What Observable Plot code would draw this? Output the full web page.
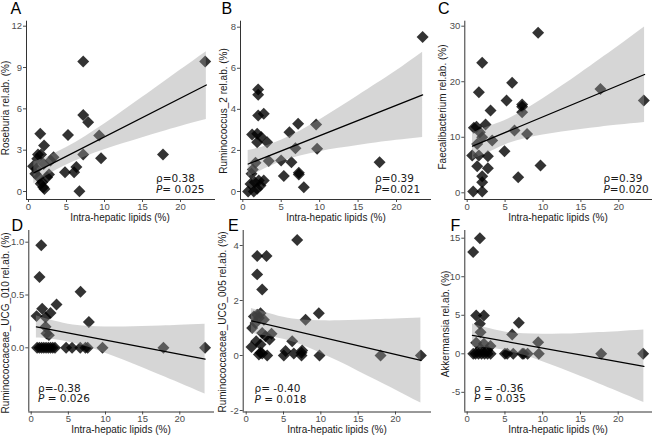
<!DOCTYPE html>
<html><head><meta charset="utf-8">
<script src="https://cdn.jsdelivr.net/npm/d3@7"></script>
<script src="https://cdn.jsdelivr.net/npm/@observablehq/plot@0.6"></script>
<style>
body{margin:0;background:#fff;}
#fig{position:relative;width:652px;height:435px;overflow:hidden;background:#fff;}
#fig svg{position:absolute;left:0;top:0;}
</style></head><body><div id="fig"></div>
<script>
// ---------- data ----------
const xTicks = [0, 5, 10, 15, 20];
const xTitle = "Intra-hepatic lipids (%)";
const panelLetters = ["A", "B", "C", "D", "E", "F"];
const yTitles = ["Roseburia rel.ab. (%)", "Ruminococcus_2 rel.ab. (%)", "Faecalibacterium rel.ab. (%)",
  "Ruminococcaceae_UCG_010 rel.ab. (%)", "Ruminococcaceae_UCG_005 rel.ab. (%)", "Akkermansia rel.ab. (%)"];
const rhoText = ["ρ=0.38", "ρ=0.39", "ρ=0.39", "ρ=-0.38", "ρ= -0.40", "ρ = -0.36"];
const pText = ["= 0.025", "=0.021", "=0.020", " = 0.026", " = 0.018", " = 0.035"];

const yTicksA = [0, 3, 6, 9, 12];
const yTicksB = [0, 2, 4, 6, 8];
const yTicksC = [0, 10, 20, 30];
const yTicksD = [0, 0.5, 1.0];
const yTicksE = [-2, 0, 2, 4];
const yTicksF = [-5, 0, 5, 10, 15];

// confidence band x positions and fitted line ends
const bandX = [0.7, 2.5, 5, 7.5, 10, 12.5, 15, 17.5, 20, 23.4];
const fitX = [0.7, 23.4];

// A Roseburia
const aX = [23.25, 7.2, 7.2, 7.85, 9.3, 5.2, 1.55, 2.05, 7.2, 9.55, 17.7, 3.3, 2.9, 1.25, 1.65, 0.6, 1.15, 4.8, 6.0, 6.3, 6.7, 0.9, 1.35, 1.8, 2.1, 1.95, 2.7, 2.45, 1.05, 2.0, 1.6];
const aY = [9.44, 9.44, 5.56, 5.03, 4.06, 4.11, 4.19, 3.34, 2.69, 2.42, 2.69, 2.49, 2.25, 2.69, 2.69, 1.84, 2.37, 1.4, 1.4, 1.77, 0.02, 1.28, 1.04, 0.68, 0.19, 0.31, 1.23, 1.04, 1.65, 2.0, 0.56];
const aLo = [0.56, 1.18, 1.92, 2.53, 3.03, 3.48, 3.91, 4.32, 4.72, 5.22];
const aHi = [2.14, 2.53, 3.19, 4.00, 4.90, 5.86, 6.84, 7.83, 8.82, 10.15];
const aFit = [1.35, 7.73];

// B Ruminococcus_2
const bX = [23.4, 2.0, 2.0, 2.0, 2.73, 1.21, 1.87, 1.87, 2.39, 3.17, 7.2, 6.07, 9.54, 6.85, 9.67, 3.38, 4.99, 6.33, 17.8, 5.34, 7.29, 7.29, 7.94, 1.65, 1.13, 1.0, 0.69, 1.43, 1.87, 2.3, 2.73, 2.08, 1.56, 1.3];
const bY = [7.52, 4.97, 4.71, 3.70, 3.78, 2.78, 2.81, 2.40, 2.65, 2.40, 3.30, 2.89, 3.26, 2.11, 2.08, 1.48, 1.51, 1.43, 1.43, 0.75, 0.91, 0.83, 0.21, 1.40, 0.86, 0.37, 0.0, 0.0, 0.13, 0.29, 0.54, 0.54, 0.45, 1.07];
const bLo = [0.70, 1.04, 1.45, 1.73, 1.94, 2.10, 2.24, 2.37, 2.49, 2.63];
const bHi = [2.00, 2.16, 2.50, 2.95, 3.48, 4.06, 4.66, 5.27, 5.88, 6.78];
const bFit = [1.34, 4.70];

// C Faecalibacterium
const cX = [9.36, 1.98, 1.54, 5.93, 17.58, 23.3, 5.19, 7.25, 7.25, 7.25, 3.08, 7.9, 6.24, 1.23, 2.42, 0.88, 1.67, 1.98, 3.3, 1.32, 0.66, 1.54, 2.73, 4.92, 1.32, 2.73, 9.67, 6.73, 1.98, 1.98, 0.79, 1.98];
const cY = [28.8, 23.4, 18.1, 19.8, 18.7, 16.6, 16.6, 15.5, 15.9, 14.5, 14.8, 10.6, 11.2, 11.9, 12.3, 11.7, 10.9, 10.0, 9.4, 8.8, 6.7, 6.7, 6.6, 7.5, 4.8, 4.4, 4.9, 2.8, 3.0, 1.9, 0.24, 0.24];
const cLo = [6.0, 7.06, 8.63, 9.70, 10.40, 10.95, 11.40, 11.81, 12.19, 12.65];
const cHi = [10.8, 11.78, 13.03, 14.80, 16.92, 19.21, 21.58, 24.01, 26.45, 29.85];
const cFit = [8.4, 21.3];

// D Ruminococcaceae_UCG_010
const dX = [0.8, 1.1, 1.4, 1.7, 2.0, 2.3, 2.6, 2.9, 3.2, 4.7, 5.5, 6.6, 7.3, 7.6, 9.6, 17.8, 23.4, 1.35, 1.12, 6.64, 3.41, 1.48, 0.72, 2.6, 1.93, 7.76, 2.06, 2.38, 1.93];
const dY = [0, 0, 0, 0, 0, 0, 0, 0, 0, 0, 0, 0, 0, 0, 0, 0, 0, 0.97, 0.67, 0.53, 0.41, 0.37, 0.30, 0.33, 0.29, 0.245, 0.135, 0.12, 0.2];
const dLo = [0.092, 0.084, 0.056, 0.009, -0.052, -0.119, -0.189, -0.262, -0.335, -0.437];
const dHi = [0.304, 0.265, 0.224, 0.205, 0.198, 0.198, 0.201, 0.206, 0.213, 0.223];
const dFit = [0.198, -0.107];

// E Ruminococcaceae_UCG_005
const eX = [6.83, 1.47, 2.72, 1.47, 2.14, 1.03, 1.47, 1.92, 1.7, 2.37, 0.8, 1.25, 7.95, 9.73, 3.39, 3.13, 6.16, 2.14, 2.59, 0.71, 1.34, 1.92, 1.92, 2.14, 2.81, 5.04, 5.27, 6.38, 7.41, 7.5, 7.41, 9.82, 18.0, 23.4, 1.7];
const eY = [4.2, 3.62, 3.62, 2.95, 2.40, 1.42, 1.48, 1.54, 1.36, 1.30, 1.0, 1.18, 1.30, 1.54, 0.79, 0.58, 0.52, 0.82, 0.70, 0.31, 0.52, 0.40, 0.10, 0.07, 0.0, 0.0, 0.16, 0.07, 0.10, 0.18, 0.0, 0.0, 0.0, 0.0, 0.04];
const eLo = [0.81, 0.72, 0.59, 0.37, 0.08, -0.23, -0.57, -0.91, -1.25, -1.73];
const eHi = [1.71, 1.575, 1.39, 1.29, 1.26, 1.26, 1.28, 1.31, 1.33, 1.36];
const eFit = [1.26, -0.18];

// F Akkermansia
const fX = [1.68, 0.79, 1.19, 2.21, 1.68, 6.84, 5.96, 1.77, 1.19, 2.21, 3.09, 9.4, 9.49, 17.75, 23.3, 0.8, 1.1, 1.5, 1.9, 2.3, 2.7, 3.1, 5.0, 5.3, 6.1, 7.3, 7.5, 8.0, 1.77, 2.65];
const fY = [15.0, 13.2, 4.97, 4.97, 3.89, 4.02, 2.51, 2.81, 1.43, 1.30, 1.0, 1.51, 0, 0, 0, 0, 0, 0, 0, 0, 0, 0, 0, 0, 0, 0, 0, 0, 0.65, 0.43];
const fLo = [0.88, 0.79, 0.43, -0.20, -1.03, -1.95, -2.92, -3.91, -4.92, -6.32];
const fHi = [3.88, 3.37, 2.84, 2.59, 2.53, 2.56, 2.65, 2.75, 2.87, 3.08];
const fFit = [2.38, -1.62];

// ---------- layout (pixel frame of each panel) ----------
const W = 652, H = 435;
const layout = [
  {axisX: 26,    x0: 28,    x20: 180,   right: 215, top: 20.7, bottom: 199,   v0: 0, p0: 191,   v1: 12, p1: 25.7,  pad: 1},
  {axisX: 240,   x0: 242.3, x20: 396,   right: 431, top: 20.7, bottom: 199,   v0: 0, p0: 191,   v1: 8,  p1: 26.7,  pad: 1},
  {axisX: 464.3, x0: 466.7, x20: 618.3, right: 652, top: 20.7, bottom: 199,   v0: 0, p0: 192.3, v1: 30, p1: 25.7,  pad: 1},
  {axisX: 28.3,  x0: 30.7,  x20: 179.3, right: 214, top: 230,  bottom: 411.5, v0: 0, p0: 347.3, v1: 1,  p1: 241.7, pad: 0},
  {axisX: 242.7, x0: 245.7, x20: 395,   right: 431, top: 230,  bottom: 411.5, v0: 0, p0: 355,   v1: 4,  p1: 245,   pad: 0},
  {axisX: 464.3, x0: 466.7, x20: 617.7, right: 652, top: 230,  bottom: 411.5, v0: 0, p0: 353.3, v1: 15, p1: 237.7, pad: 0}
];

const panels = [
  {xs: aX, ys: aY, lo: aLo, hi: aHi, fit: aFit, yTicks: yTicksA, fmt: d => String(d)},
  {xs: bX, ys: bY, lo: bLo, hi: bHi, fit: bFit, yTicks: yTicksB, fmt: d => String(d)},
  {xs: cX, ys: cY, lo: cLo, hi: cHi, fit: cFit, yTicks: yTicksC, fmt: d => String(d)},
  {xs: dX, ys: dY, lo: dLo, hi: dHi, fit: dFit, yTicks: yTicksD, fmt: d3.format(".1f")},
  {xs: eX, ys: eY, lo: eLo, hi: eHi, fit: eFit, yTicks: yTicksE, fmt: d => String(d)},
  {xs: fX, ys: fY, lo: fLo, hi: fHi, fit: fFit, yTicks: yTicksF, fmt: d => String(d)}
];

const fig = document.getElementById("fig");

panels.forEach((p, i) => {
  const L = layout[i];
  const kx = (L.x20 - L.x0) / 20;
  const xDom = [(L.axisX - L.x0) / kx, (L.right - L.x0) / kx];
  const ky = (L.p1 - L.p0) / (L.v1 - L.v0);
  const val = px => L.v0 + (px - L.p0) / ky;
  const yDom = [val(L.bottom), val(L.top)];
  const pts = p.xs.map((x, j) => ({x, y: p.ys[j]}));
  const band = bandX.map((x, j) => ({x, lo: p.lo[j], hi: p.hi[j]}));
  const line = fitX.map((x, j) => ({x, y: p.fit[j]}));
  const svg = Plot.plot({
    width: W, height: H,
    marginLeft: L.axisX, marginRight: W - L.right, marginTop: L.top, marginBottom: H - L.bottom,
    x: {domain: xDom},
    y: {domain: yDom},
    style: {background: "transparent", overflow: "visible", color: "#4d4d4d",
            fontFamily: "'Liberation Sans', Arial, sans-serif", fontSize: "9.5px"},
    marks: [
      Plot.axisX({ticks: xTicks, tickSize: 3, tickPadding: L.pad, label: null}),
      Plot.axisY({ticks: p.yTicks, tickFormat: p.fmt, tickSize: 3, tickPadding: 1.5, label: null}),
      Plot.dot(pts, {x: "x", y: "y", symbol: "diamond2", r: 5.4, fill: "#000", fillOpacity: 0.8, stroke: "none"}),
      Plot.areaY(band, {x: "x", y1: "lo", y2: "hi", fill: "#999999", fillOpacity: 0.4, curve: "natural"}),
      Plot.line(line, {x: "x", y: "y", stroke: "#000", strokeWidth: 1.3}),
      Plot.ruleX([xDom[0]], {stroke: "#333", strokeWidth: 1}),
      Plot.ruleY([yDom[0]], {stroke: "#333", strokeWidth: 1})
    ]
  });
  fig.appendChild(svg);
});

// ---------- text overlay ----------
const ov = d3.select(fig).append("svg").attr("width", W).attr("height", H)
  .style("overflow", "visible");

const letterPos = [[10.5, 13.5], [221.5, 14], [438, 14], [11.5, 230.5], [228, 230.5], [450.5, 230.5]];
const xTitlePos = [[120, 220.5], [336, 220.5], [558, 220.5], [121, 433], [337, 433], [558, 433]];
const yTitlePos = [[8.5, 108], [226.5, 111], [446, 107], [8.8, 323], [225.8, 322], [449, 324]];
const annPos = [[156, 182, 193], [375, 182, 193], [603.5, 182, 193], [38, 391.5, 402], [254.5, 392, 402.5], [474, 391.5, 402]];

panelLetters.forEach((t, i) => {
  ov.append("text").attr("x", letterPos[i][0]).attr("y", letterPos[i][1])
    .attr("font-family", "'Liberation Sans', Arial, sans-serif").attr("font-size", 16)
    .attr("fill", "#000").text(t);
  ov.append("text").attr("x", xTitlePos[i][0]).attr("y", xTitlePos[i][1])
    .attr("text-anchor", "middle")
    .attr("font-family", "'Liberation Sans', Arial, sans-serif").attr("font-size", 10)
    .attr("fill", "#1a1a1a").text(xTitle);
  ov.append("text").attr("transform", `translate(${yTitlePos[i][0]},${yTitlePos[i][1]}) rotate(-90)`)
    .attr("text-anchor", "middle")
    .attr("font-family", "'Liberation Sans', Arial, sans-serif").attr("font-size", 10)
    .attr("fill", "#1a1a1a").text(yTitles[i]);
  ov.append("text").attr("x", annPos[i][0]).attr("y", annPos[i][1])
    .attr("font-family", "'DejaVu Sans', sans-serif").attr("font-size", 10.5)
    .attr("fill", "#1a1a1a").style("white-space", "pre").text(rhoText[i]);
  const tp = ov.append("text").attr("x", annPos[i][0]).attr("y", annPos[i][2])
    .attr("font-family", "'DejaVu Sans', sans-serif").attr("font-size", 10.5)
    .attr("fill", "#1a1a1a").style("white-space", "pre");
  tp.append("tspan").attr("font-style", "italic").text("P");
  tp.append("tspan").text(pText[i]);
});
</script>
</body></html>
